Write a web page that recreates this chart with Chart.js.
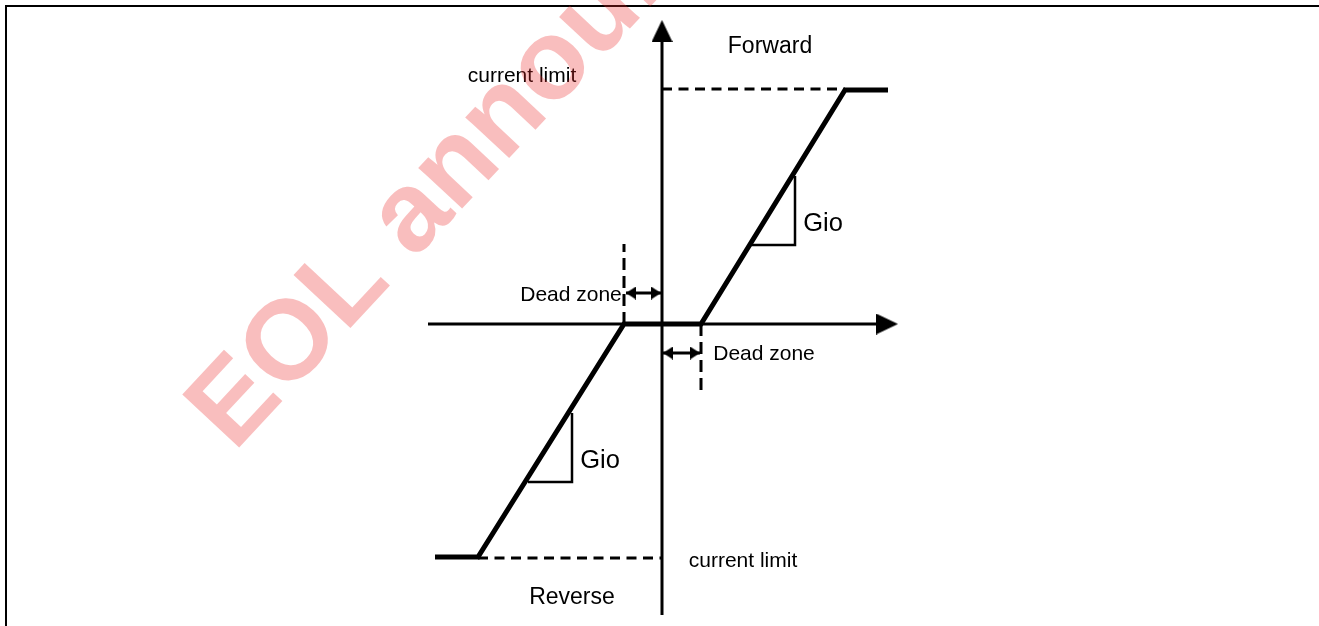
<!DOCTYPE html>
<html><head><meta charset="utf-8">
<script src="https://cdn.jsdelivr.net/npm/chart.js@4.4.1/dist/chart.umd.min.js"></script>
<style>
html,body{margin:0;padding:0;background:#fff;}
#wrap{position:relative;width:1319px;height:626px;overflow:hidden;background:#fff;}
#frame{position:absolute;left:5px;top:5px;right:-10px;bottom:-10px;border-top:2px solid #000;border-left:2px solid #000;}
canvas{position:absolute;left:0;top:0;}
</style></head><body>
<div id="wrap"><div id="frame"></div><canvas id="c" width="1319" height="626"></canvas></div>
<script>
// ---- data (diagram units, measured from the origin where the axes cross) ----
// transfer characteristic: output vs input, with dead zone and current limits
const curveX = [-227, -184, -38, 39, 183, 226];
const curveY = [-233, -233, 0, 0, 234, 234];
// axes
const hAxisX = [-234, 226], hAxisY = [0, 0];
const vAxisX = [0, 0],      vAxisY = [-291, 292];
const axisTipX = [236, 0],  axisTipY = [0, 304];
// current limit guides
const limitUpX = [0, 183],   limitUpY = [235, 235];
const limitDnX = [-184, 0],  limitDnY = [-234, -234];
// dead zone guides
const dzLeftX = [-38, -38],  dzLeftY = [0, 80];
const dzRightX = [39, 39],   dzRightY = [0, -68];
// dead zone double arrows
const dzArrowLX = [-36, -1], dzArrowLY = [31, 31];
const dzArrowRX = [1, 38],   dzArrowRY = [-29, -29];
// Gio slope triangles
const gioUpX = [88, 133, 133],    gioUpY = [79, 79, 148];
const gioDnX = [-134, -90, -90],  gioDnY = [-158, -158, -89];
// text labels
const labelText = ['Forward', 'Reverse', 'current limit', 'current limit', 'Dead zone', 'Dead zone', 'Gio', 'Gio'];
const labelX = [108, -90, -140, 81, -91, 102, 161, -62];
const labelY = [271, -280, 242, -243, 23, -36, 93, -144];
const watermarkText = 'EOL announced';
const watermarkX = -428, watermarkY = -129;

// ---- styles ----
const labelFontPx = [23, 23, 21, 21, 21, 21, 25.5, 25.5];
const FONT = '"Liberation Sans", Arial, Helvetica, sans-serif';

function pts(xs, ys) { return xs.map((x, i) => ({x: x, y: ys[i]})); }
function arrowHead(len, halfW) {
  const c = document.createElement('canvas');
  c.width = Math.round(halfW * 2); c.height = Math.round(len * 2);
  const g = c.getContext('2d');
  g.fillStyle = '#000';
  g.beginPath();
  g.moveTo(c.width / 2, c.height / 2);
  g.lineTo(c.width, c.height);
  g.lineTo(0, c.height);
  g.closePath(); g.fill();
  return c;
}
const bigHead = arrowHead(22, 10.5);
const smallHead = arrowHead(10, 6.5);

function lineDs(data, width, dash) {
  return {data: data, showLine: true, borderColor: '#000', backgroundColor: '#000',
    borderWidth: width, borderDash: dash || [], borderCapStyle: 'butt', borderJoinStyle: 'miter',
    pointRadius: 0, pointHoverRadius: 0, tension: 0, fill: false};
}

const datasets = [
  lineDs(pts(hAxisX, hAxisY), 3),
  lineDs(pts(vAxisX, vAxisY), 3),
  lineDs(pts(limitUpX, limitUpY), 3, [10, 6.5]),
  lineDs(pts(limitDnX, limitDnY), 3, [10, 6.5]),
  lineDs(pts(dzLeftX, dzLeftY), 3, [12, 6]),
  lineDs(pts(dzRightX, dzRightY), 3, [12, 6]),
  lineDs(pts(gioUpX, gioUpY), 2.5),
  lineDs(pts(gioDnX, gioDnY), 2.5),
  Object.assign(lineDs(pts(dzArrowLX, dzArrowLY), 3), {pointRadius: 4, pointStyle: smallHead, pointRotation: [-90, 90]}),
  Object.assign(lineDs(pts(dzArrowRX, dzArrowRY), 3), {pointRadius: 4, pointStyle: smallHead, pointRotation: [-90, 90]}),
  Object.assign(lineDs(pts(axisTipX, axisTipY), 0), {showLine: false, pointRadius: 4, pointStyle: bigHead, pointRotation: [90, 0]}),
  lineDs(pts(curveX, curveY), 5),
];

const textPlugin = {
  id: 'diagramText',
  afterDatasetsDraw(chart) {
    const ctx = chart.ctx, sx = chart.scales.x, sy = chart.scales.y;
    ctx.save();
    ctx.fillStyle = '#000';
    ctx.textAlign = 'center';
    ctx.textBaseline = 'alphabetic';
    labelText.forEach((t, i) => {
      ctx.font = labelFontPx[i] + 'px ' + FONT;
      ctx.fillText(t, sx.getPixelForValue(labelX[i]), sy.getPixelForValue(labelY[i]));
    });
    ctx.translate(sx.getPixelForValue(watermarkX), sy.getPixelForValue(watermarkY));
    ctx.rotate(-47 * Math.PI / 180);
    ctx.font = 'bold 113px ' + FONT;
    ctx.fillStyle = 'rgba(235,40,40,0.3)';
    ctx.textAlign = 'left';
    ctx.fillText(watermarkText, 0, 0);
    ctx.restore();
  }
};

new Chart(document.getElementById('c'), {
  type: 'scatter',
  data: {datasets: datasets},
  options: {
    responsive: false, animation: false, events: [],
    layout: {padding: 0, autoPadding: false},
    plugins: {legend: {display: false}, tooltip: {enabled: false}},
    scales: {
      x: {type: 'linear', min: -662, max: 657, display: false},
      y: {type: 'linear', min: -302, max: 324, display: false}
    }
  },
  plugins: [textPlugin]
});
</script>
</body></html>
